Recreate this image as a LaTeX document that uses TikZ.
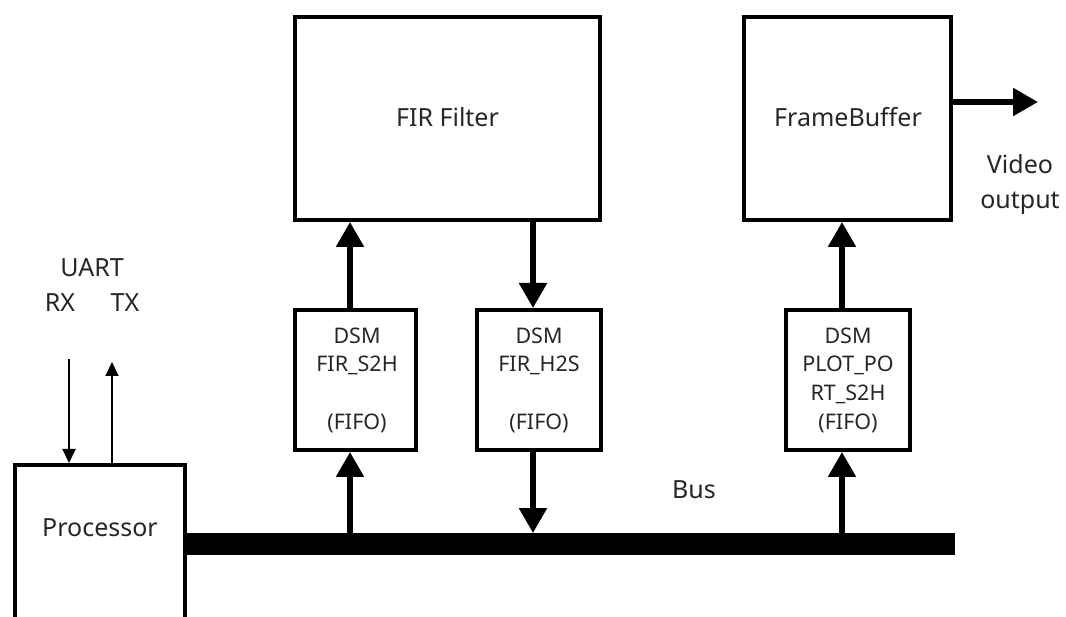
\documentclass[tikz,border=0pt]{standalone}
\usepackage{fontspec}
\setmainfont{Noto Sans}
\usetikzlibrary{arrows.meta}
\begin{document}
\begin{tikzpicture}[x=1pt,y=-1pt,
  blk/.style={draw, line width=4pt, inner sep=0pt},
  big/.style={font=\fontsize{25}{35}\selectfont, align=center, inner sep=0pt, text=black!85},
  small/.style={font=\fontsize{21.5}{28.7}\selectfont, align=center, inner sep=0pt, text=black!85},
  flow/.style={line width=5.5pt, -{Triangle[length=25pt,width=27pt]}},
  uart/.style={line width=2pt, -{Triangle[length=14pt,width=13pt]}},
  busline/.style={line width=22pt}]
\useasboundingbox (0,0) rectangle (1066,617);
\clip (0,0) rectangle (1066,617);

% processing blocks
\node[blk, minimum width=305pt, minimum height=203pt] (fir) at (447.5,118.5) {};
\node[big] at (447.5,117) {FIR Filter};
\node[blk, minimum width=207pt, minimum height=203pt] (fb) at (847.5,118.5) {};
\node[big] at (848,117) {FrameBuffer};

% DSM FIFOs
\node[blk, minimum width=121pt, minimum height=140pt] (s2h) at (355.5,380) {};
\node[small] at (357,380) {DSM\\FIR\_S2H\\\mbox{}\\(FIFO)};
\node[blk, minimum width=124pt, minimum height=140pt] (h2s) at (539,380) {};
\node[small] at (539,380) {DSM\\FIR\_H2S\\\mbox{}\\(FIFO)};
\node[blk, minimum width=124pt, minimum height=140pt] (plot) at (848,380) {};
\node[small] at (848,380) {DSM\\PLOT\_PO\\RT\_S2H\\(FIFO)};

% processor (runs off the lower edge)
\node[blk, minimum width=170pt, minimum height=220pt, anchor=north] (proc) at (100,463) {};
\node[big] at (100,528) {Processor};

% bus
\coordinate (busend) at (955,544);
\draw[busline] (proc.east |- busend) -- (busend);
\node[big] at (694,490) {Bus};

% tap points on the bus
\coordinate (b1) at (350,544);
\coordinate (b2) at (533,533);
\coordinate (b3) at (842,544);

\draw[flow] (b1) -- (b1 |- s2h.south);
\draw[flow] (b1 |- s2h.north) -- (b1 |- fir.south);
\draw[flow] (b2 |- fir.south) -- (b2 |- h2s.north);
\draw[flow] (b2 |- h2s.south) -- (b2);
\draw[flow] (b3) -- (b3 |- plot.south);
\draw[flow] (b3 |- plot.north) -- (b3 |- fb.south);

% video output
\coordinate (vout) at (1038,102);
\draw[flow] (fb.east |- vout) -- (vout);
\node[big] at (1020,185) {Video\\output};

% UART
\node[big] at (92,268) {UART};
\node[big] at (60,303) {RX};
\node[big] at (125,303) {TX};
\coordinate (rx) at (69,359);
\coordinate (tx) at (112,362);
\draw[uart] (rx) -- (rx |- proc.north);
\draw[uart] (tx |- proc.north) -- (tx);
\end{tikzpicture}
\end{document}
